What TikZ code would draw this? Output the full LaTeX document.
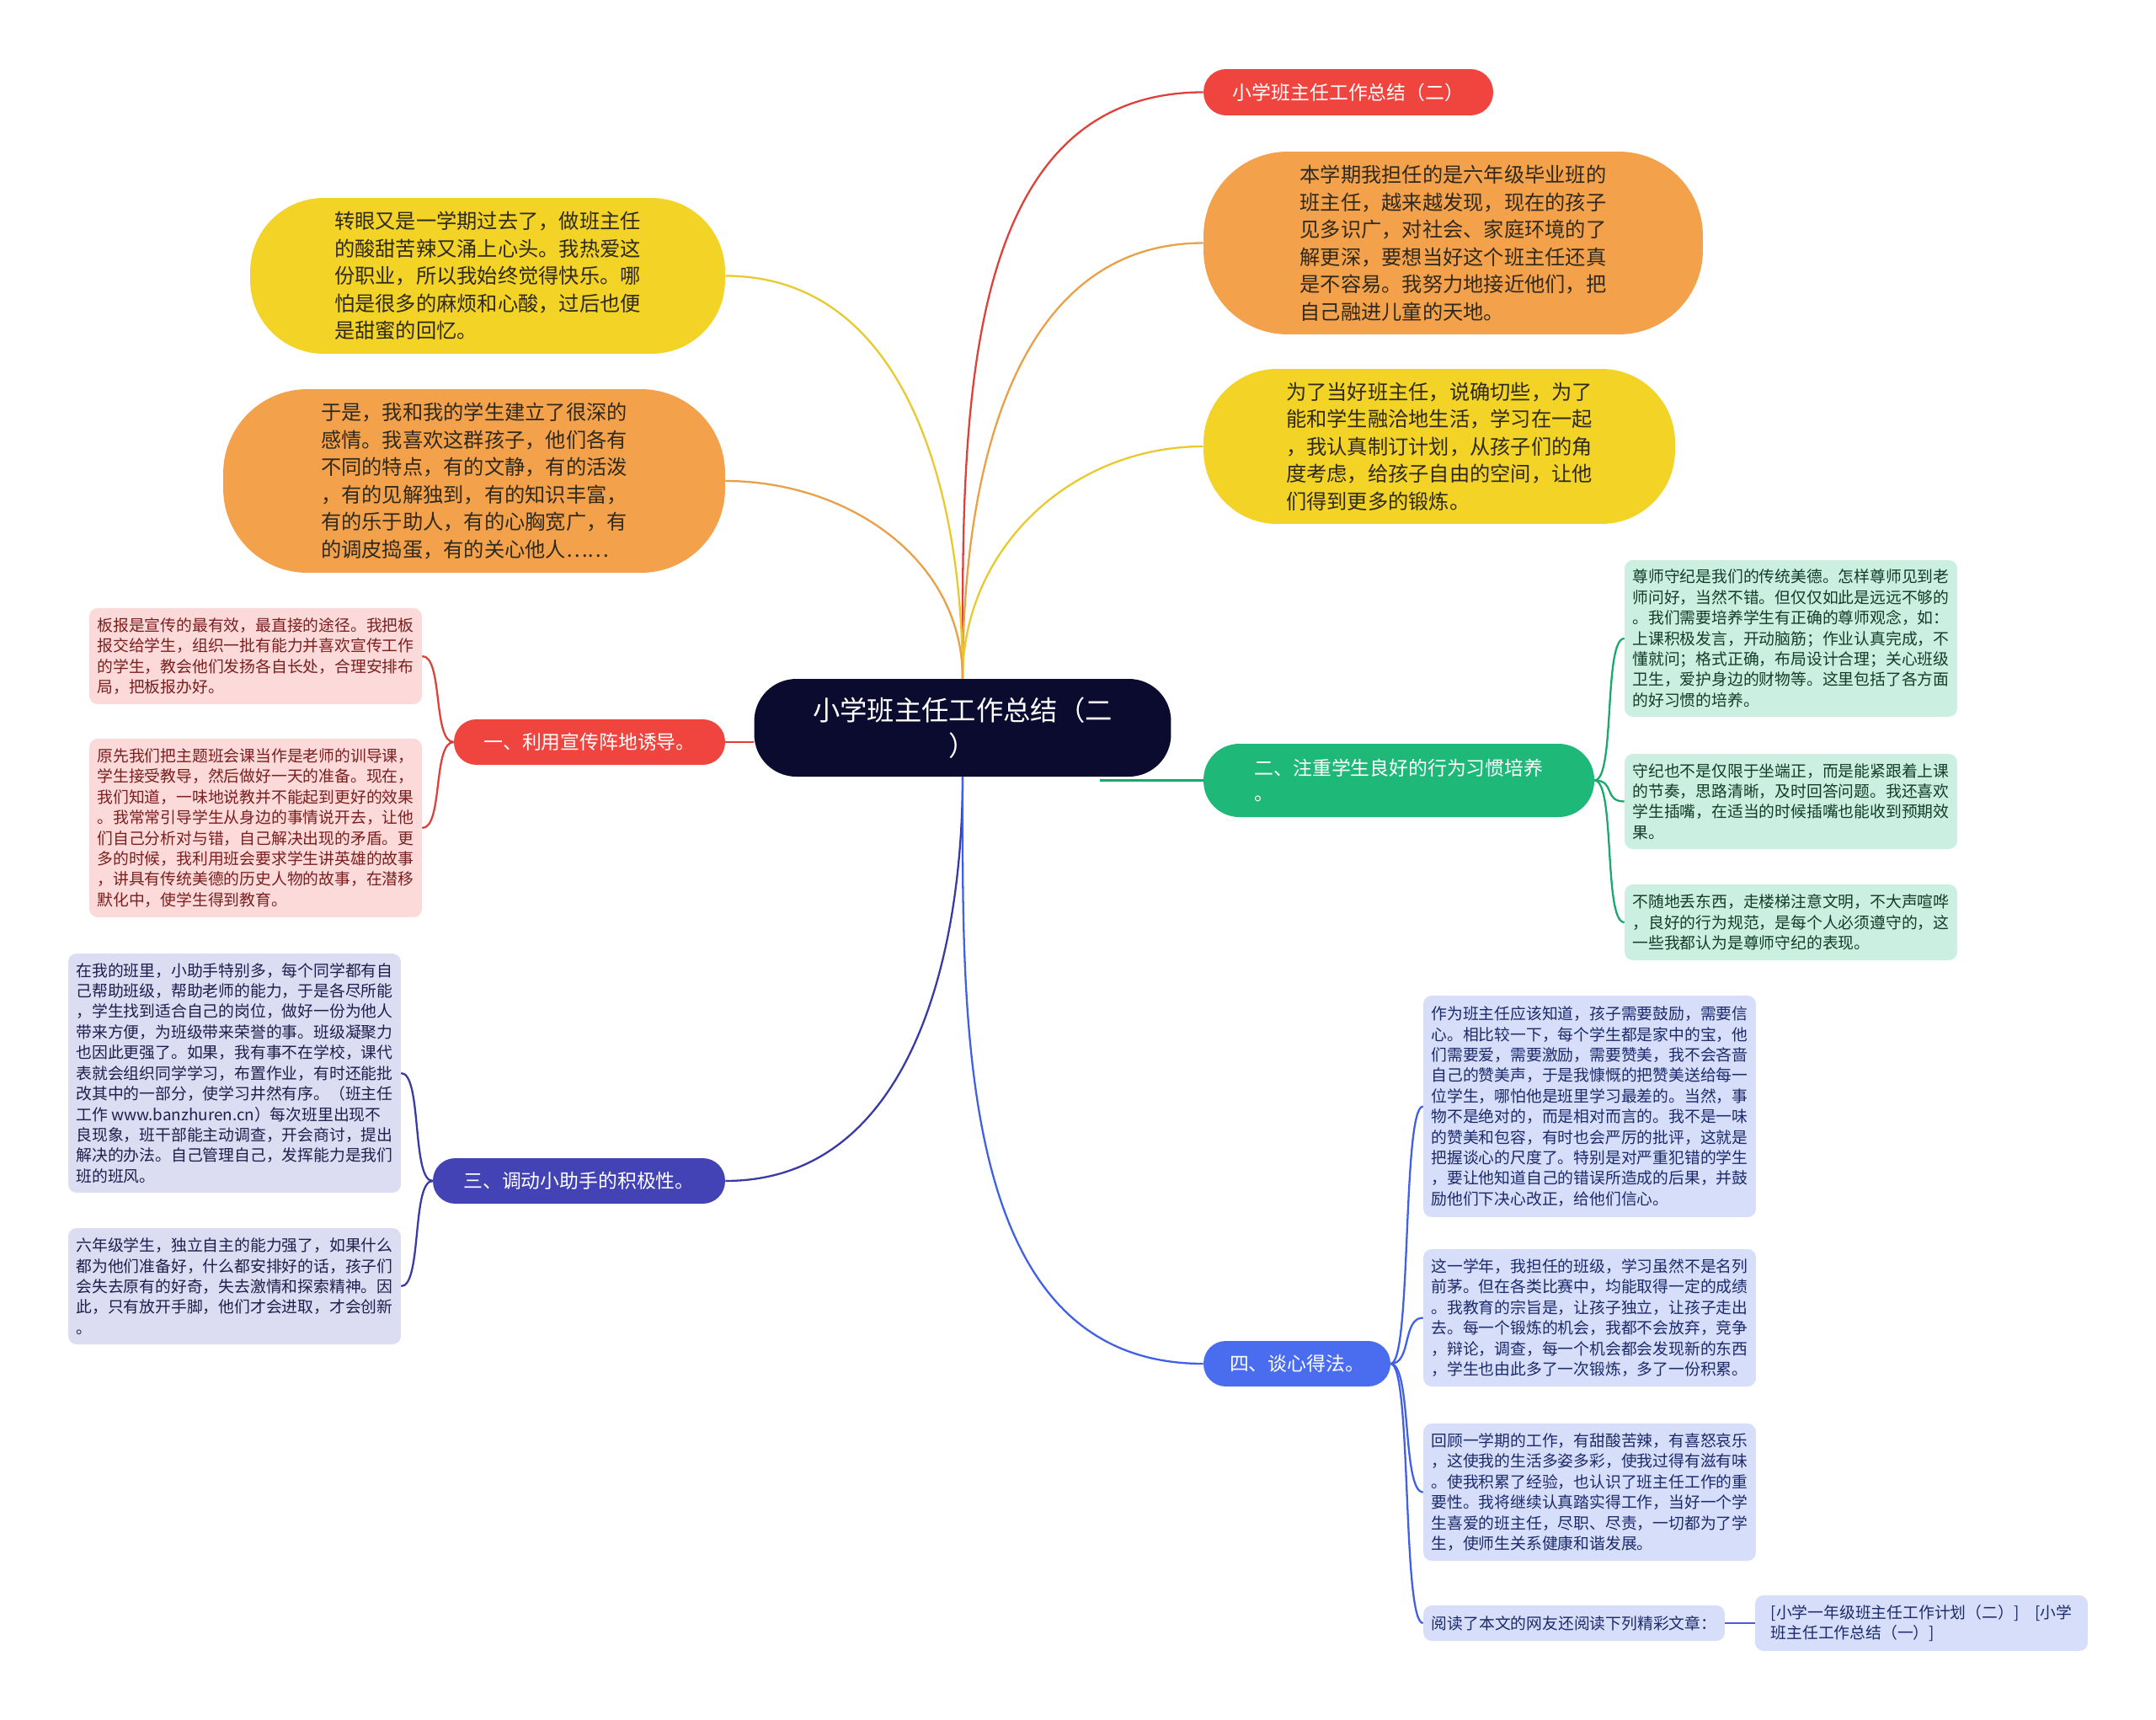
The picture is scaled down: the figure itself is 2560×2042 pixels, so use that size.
\documentclass[tikz,border=0pt]{standalone}
\usepackage{fontspec}
\setmainfont{Noto Sans CJK SC}
\definecolor{hubfill}{HTML}{0B0B30}
\definecolor{redfill}{HTML}{F0453F}
\definecolor{redline}{HTML}{E0403A}
\definecolor{pinkfill}{HTML}{FCDADA}
\definecolor{pinkink}{HTML}{7A1E1E}
\definecolor{orangefill}{HTML}{F4A14B}
\definecolor{orangeline}{HTML}{E9A047}
\definecolor{yellowfill}{HTML}{F2D326}
\definecolor{yellowline}{HTML}{E8C92E}
\definecolor{greenfill}{HTML}{1EB978}
\definecolor{greenline}{HTML}{1AA86C}
\definecolor{mintfill}{HTML}{CBEFE0}
\definecolor{mintink}{HTML}{123D2A}
\definecolor{indigofill}{HTML}{4343B5}
\definecolor{indigoline}{HTML}{3A3AA5}
\definecolor{lilacfill}{HTML}{DCDCF3}
\definecolor{lilacink}{HTML}{1F1F4D}
\definecolor{bluefill}{HTML}{4A6DF0}
\definecolor{blueline}{HTML}{4260E6}
\definecolor{skyfill}{HTML}{D6DEFA}
\definecolor{skyink}{HTML}{1C2A6B}
\definecolor{bubbleink}{HTML}{2F2A1E}
\tikzset{
  hub/.style={fill=hubfill,text=white,rounded corners=1cm,inner sep=0pt,align=center,
    minimum width=9.9cm,minimum height=2.32cm,font=\fontsize{18.4}{24}\selectfont},
  branch/.style={fill=#1,text=white,inner sep=0pt,align=left,minimum height=1.08cm,
    rounded corners=0.53cm,font=\fontsize{13}{17}\selectfont},
  bubble/.style={fill=#1,text=bubbleink,inner sep=0pt,align=left,
    font=\fontsize{13.8}{18.5}\selectfont},
  leaf/.style={fill=#1,inner sep=0pt,align=left,rounded corners=0.2cm,
    minimum width=7.9cm,font=\fontsize{10.7}{13.9}\selectfont},
  link/.style={line width=1.3pt}
}
\begin{document}
\begin{tikzpicture}[x=0.02cm,y=-0.02cm]
\path[use as bounding box,fill=white] (0,0) rectangle (2560,2042);
% centre
\node[hub] (hub) at (1143,864) {小学班主任工作总结（二\\）};
% upper bubbles
\node[branch=redfill,minimum width=6.88cm,minimum height=1.1cm,rounded corners=0.54cm,align=center] (title) at (1601,109.5) {小学班主任工作总结（二）};
\node[bubble=orangefill,minimum width=11.86cm,minimum height=4.34cm,rounded corners=2cm] (term) at (1725.5,288.5)
  {本学期我担任的是六年级毕业班的\\班主任，越来越发现，现在的孩子\\见多识广，对社会、家庭环境的了\\解更深，要想当好这个班主任还真\\是不容易。我努力地接近他们，把\\自己融进儿童的天地。};
\node[bubble=yellowfill,minimum width=11.2cm,minimum height=3.68cm,rounded corners=1.75cm] (plan) at (1709,530)
  {为了当好班主任，说确切些，为了\\能和学生融洽地生活，学习在一起\\，我认真制订计划，从孩子们的角\\度考虑，给孩子自由的空间，让他\\们得到更多的锻炼。};
\node[bubble=yellowfill,minimum width=11.28cm,minimum height=3.7cm,rounded corners=1.75cm] (intro) at (579,327.5)
  {转眼又是一学期过去了，做班主任\\的酸甜苦辣又涌上心头。我热爱这\\份职业，所以我始终觉得快乐。哪\\怕是很多的麻烦和心酸，过后也便\\是甜蜜的回忆。};
\node[bubble=orangefill,minimum width=11.92cm,minimum height=4.36cm,rounded corners=2cm] (bond) at (563,571)
  {于是，我和我的学生建立了很深的\\感情。我喜欢这群孩子，他们各有\\不同的特点，有的文静，有的活泼\\，有的见解独到，有的知识丰富，\\有的乐于助人，有的心胸宽广，有\\的调皮捣蛋，有的关心他人……};
% branch one
\node[branch=redfill,minimum width=6.44cm] (one) at (700,881) {一、利用宣传阵地诱导。};
\node[leaf=pinkfill,text=pinkink,minimum height=2.28cm] (board) at (303.5,779)
  {板报是宣传的最有效，最直接的途径。我把板\\报交给学生，组织一批有能力并喜欢宣传工作\\的学生，教会他们发扬各自长处，合理安排布\\局，把板报办好。};
\node[leaf=pinkfill,text=pinkink,minimum height=4.24cm] (meeting) at (303.5,983)
  {原先我们把主题班会课当作是老师的训导课，\\学生接受教导，然后做好一天的准备。现在，\\我们知道，一味地说教并不能起到更好的效果\\。我常常引导学生从身边的事情说开去，让他\\们自己分析对与错，自己解决出现的矛盾。更\\多的时候，我利用班会要求学生讲英雄的故事\\，讲具有传统美德的历史人物的故事，在潜移\\默化中，使学生得到教育。};
% branch two
\node[branch=greenfill,minimum width=9.28cm,minimum height=1.74cm,rounded corners=0.85cm] (two) at (1661,926.5) {二、注重学生良好的行为习惯培养\\。};
\node[leaf=mintfill,text=mintink,minimum height=3.72cm] (respect) at (2126.5,758)
  {尊师守纪是我们的传统美德。怎样尊师见到老\\师问好，当然不错。但仅仅如此是远远不够的\\。我们需要培养学生有正确的尊师观念，如：\\上课积极发言，开动脑筋；作业认真完成，不\\懂就问；格式正确，布局设计合理；关心班级\\卫生，爱护身边的财物等。这里包括了各方面\\的好习惯的培养。};
\node[leaf=mintfill,text=mintink,minimum height=2.26cm] (rhythm) at (2126.5,951.5)
  {守纪也不是仅限于坐端正，而是能紧跟着上课\\的节奏，思路清晰，及时回答问题。我还喜欢\\学生插嘴，在适当的时候插嘴也能收到预期效\\果。};
\node[leaf=mintfill,text=mintink,minimum height=1.8cm] (manners) at (2126.5,1095)
  {不随地丢东西，走楼梯注意文明，不大声喧哗\\，良好的行为规范，是每个人必须遵守的，这\\一些我都认为是尊师守纪的表现。};
% branch three
\node[branch=indigofill,minimum width=6.94cm] (three) at (687.5,1402) {三、调动小助手的积极性。};
\node[leaf=lilacfill,text=lilacink,minimum height=5.68cm] (helpers) at (278.5,1274)
  {在我的班里，小助手特别多，每个同学都有自\\己帮助班级，帮助老师的能力，于是各尽所能\\，学生找到适合自己的岗位，做好一份为他人\\带来方便，为班级带来荣誉的事。班级凝聚力\\也因此更强了。如果，我有事不在学校，课代\\表就会组织同学学习，布置作业，有时还能批\\改其中的一部分，使学习井然有序。（班主任\\工作 www.banzhuren.cn）每次班里出现不\\良现象，班干部能主动调查，开会商讨，提出\\解决的办法。自己管理自己，发挥能力是我们\\班的班风。};
\node[leaf=lilacfill,text=lilacink,minimum height=2.76cm] (freedom) at (278.5,1527)
  {六年级学生，独立自主的能力强了，如果什么\\都为他们准备好，什么都安排好的话，孩子们\\会失去原有的好奇，失去激情和探索精神。因\\此，只有放开手脚，他们才会进取，才会创新\\。};
% branch four
\node[branch=bluefill,minimum width=4.44cm,align=center] (four) at (1540,1619) {四、谈心得法。};
\node[leaf=skyfill,text=skyink,minimum height=5.26cm] (praise) at (1887.5,1313.5)
  {作为班主任应该知道，孩子需要鼓励，需要信\\心。相比较一下，每个学生都是家中的宝，他\\们需要爱，需要激励，需要赞美，我不会吝啬\\自己的赞美声，于是我慷慨的把赞美送给每一\\位学生，哪怕他是班里学习最差的。当然，事\\物不是绝对的，而是相对而言的。我不是一味\\的赞美和包容，有时也会严厉的批评，这就是\\把握谈心的尺度了。特别是对严重犯错的学生\\，要让他知道自己的错误所造成的后果，并鼓\\励他们下决心改正，给他们信心。};
\node[leaf=skyfill,text=skyink,minimum height=3.26cm] (contest) at (1887.5,1564.5)
  {这一学年，我担任的班级，学习虽然不是名列\\前茅。但在各类比赛中，均能取得一定的成绩\\。我教育的宗旨是，让孩子独立，让孩子走出\\去。每一个锻炼的机会，我都不会放弃，竞争\\，辩论，调查，每一个机会都会发现新的东西\\，学生也由此多了一次锻炼，多了一份积累。};
\node[leaf=skyfill,text=skyink,minimum height=3.26cm] (review) at (1887.5,1771.5)
  {回顾一学期的工作，有甜酸苦辣，有喜怒哀乐\\，这使我的生活多姿多彩，使我过得有滋有味\\。使我积累了经验，也认识了班主任工作的重\\要性。我将继续认真踏实得工作，当好一个学\\生喜爱的班主任，尽职、尽责，一切都为了学\\生，使师生关系健康和谐发展。};
\node[leaf=skyfill,text=skyink,minimum width=7.16cm,minimum height=0.84cm] (readers) at (1869,1927)
  {阅读了本文的网友还阅读下列精彩文章：};
\node[leaf=skyfill,text=skyink,minimum height=1.32cm] (links) at (2281.5,1927)
  {[小学一年级班主任工作计划（二）]　[小学\\班主任工作总结（一）]};
% links from the centre
\draw[link,redline] (hub.north) to[out=90,in=180] (title.west);
\draw[link,orangeline] (hub.north) to[out=90,in=180] (term.west);
\draw[link,yellowline] (hub.north) to[out=90,in=180] (plan.west);
\draw[link,yellowline] (hub.north) to[out=90,in=0] (intro.east);
\draw[link,orangeline] (hub.north) to[out=90,in=0] (bond.east);
\draw[link,redline] (one.east) -- (one.east -| hub.west);
\coordinate (hubfoot) at (1306,926.5);
\draw[link,greenline] (hubfoot) -- (two.west);
\draw[link,indigoline] (hub.south) to[out=-90,in=0] (three.east);
\draw[link,blueline] (hub.south) to[out=-90,in=180] (four.west);
% brackets to the leaves
\foreach \leafname in {board,meeting}
  \draw[link,redline] (one.west) .. controls +(-25,0) and +(25,0) .. (\leafname.east);
\foreach \leafname in {respect,rhythm,manners}
  \draw[link,greenline] (two.east) .. controls +(25,0) and +(-25,0) .. (\leafname.west);
\foreach \leafname in {helpers,freedom}
  \draw[link,indigoline] (three.west) .. controls +(-25,0) and +(25,0) .. (\leafname.east);
\foreach \leafname in {praise,contest,review,readers}
  \draw[link,blueline] (four.east) .. controls +(25,0) and +(-25,0) .. (\leafname.west);
\draw[link,blueline] (readers.east) -- (links.west);
\end{tikzpicture}
\end{document}
